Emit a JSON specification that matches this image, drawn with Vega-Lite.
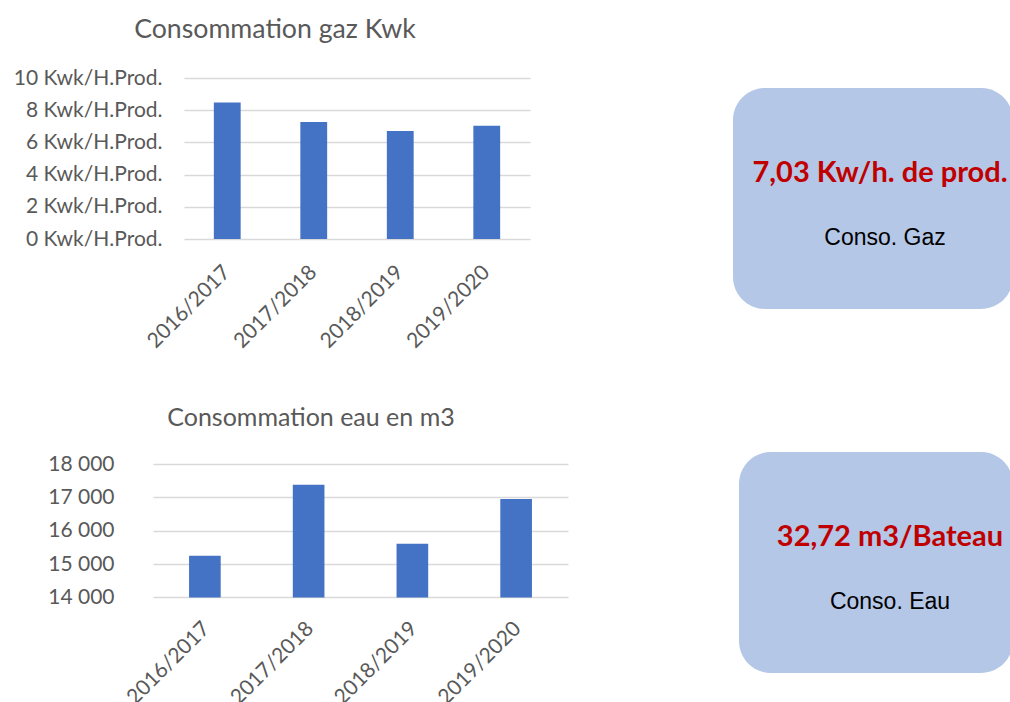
{
  "$schema": "https://vega.github.io/schema/vega-lite/v6.json",
  "padding": {"left": 11, "top": 16, "right": 0, "bottom": 0},
  "background": "white",
  "columns": 3,
  "align": "none",
  "bounds": "full",
  "spacing": 0,
  "config": {
    "view": {"stroke": null},
    "font": "Lato",
    "axis": {"labelFont": "Lato", "labelFontSize": 21, "labelColor": "#595959", "ticks": false, "domain": false, "gridColor": "#D9D9D9", "gridWidth": 1.5},
    "title": {"font": "Lato", "fontWeight": "normal", "color": "#595959", "anchor": "middle", "frame": "bounds", "baseline": "alphabetic"}
  },
  "concat": [
    {"width": 1, "height": 1, "data": {"values": []}, "mark": "point"},
    {"width": 1, "height": 1, "data": {"values": []}, "mark": "point"},
    {"width": 1, "height": 1, "data": {"values": []}, "mark": "point"},
    {"width": 1, "height": 1, "data": {"values": []}, "mark": "point"},
    {
      "width": 346,
      "height": 161,
      "title": {"text": "Consommation gaz Kwk", "fontSize": 26.7, "offset": 23, "dx": 4},
      "data": {"values": [
        {"saison": "2016/2017", "conso": 8.48},
        {"saison": "2017/2018", "conso": 7.27},
        {"saison": "2018/2019", "conso": 6.71},
        {"saison": "2019/2020", "conso": 7.03}
      ]},
      "mark": {"type": "bar", "color": "#4472C4"},
      "encoding": {
        "x": {"field": "saison", "type": "nominal", "sort": null, "title": null, "scale": {"paddingInner": 0.69, "paddingOuter": 0.345}, "axis": {"labelAngle": -45, "labelPadding": 22, "labelOffset": -8, "grid": false, "minExtent": 167, "maxExtent": 167}},
        "y": {"field": "conso", "type": "quantitative", "title": null, "scale": {"domain": [0, 10], "nice": false}, "axis": {"values": [0, 2, 4, 6, 8, 10], "labelExpr": "datum.value + ' Kwk/H.Prod.'", "labelPadding": 22, "minExtent": 172, "grid": true}}
      }
    },
    {
      "width": 280,
      "height": 221,
      "view": {"fill": "#B4C7E7", "stroke": null, "cornerRadius": 32},
      "data": {"values": [
        {"indicateur": "Gaz", "ligne": "valeur", "texte": "7,03 Kw/h. de prod."},
        {"indicateur": "Gaz", "ligne": "libellé", "texte": "Conso. Gaz"}
      ]},
      "encoding": {
        "x": {"field": "indicateur", "type": "nominal", "title": null, "axis": {"orient": "top", "labels": false, "ticks": false, "domain": false, "grid": false, "minExtent": 71, "maxExtent": 71}},
        "y": {"field": "ligne", "type": "nominal", "title": null, "scale": {"type": "point", "domain": ["valeur", "libellé"], "padding": 1.1}, "axis": {"labels": false, "ticks": false, "domain": false, "grid": false, "minExtent": 134, "maxExtent": 134}},
        "text": {"field": "texte", "type": "nominal"}
      },
      "layer": [
        {"transform": [{"filter": "datum.ligne === 'valeur'"}], "mark": {"type": "text", "font": "Lato", "fontWeight": "bold", "fontSize": 29, "color": "#C00000", "baseline": "alphabetic", "align": "center", "dx": 7, "dy": 20}},
        {"transform": [{"filter": "datum.ligne === 'libellé'"}], "mark": {"type": "text", "font": "Liberation Sans", "fontSize": 23, "color": "#000000", "baseline": "alphabetic", "align": "center", "dx": 12, "dy": 10}}
      ]
    },
    {"width": 1, "height": 1, "data": {"values": []}, "mark": "point"},
    {
      "width": 415,
      "height": 133.4,
      "title": {"text": "Consommation eau en m3", "fontSize": 25, "offset": 22, "dx": 21},
      "data": {"values": [
        {"saison": "2016/2017", "conso": 15250},
        {"saison": "2017/2018", "conso": 17380},
        {"saison": "2018/2019", "conso": 15610},
        {"saison": "2019/2020", "conso": 16950}
      ]},
      "mark": {"type": "bar", "color": "#4472C4"},
      "encoding": {
        "x": {"field": "saison", "type": "nominal", "sort": null, "title": null, "scale": {"paddingInner": 0.695, "paddingOuter": 0.3475}, "axis": {"labelAngle": -45, "labelPadding": 20, "labelOffset": -6, "grid": false}},
        "y": {"field": "conso", "type": "quantitative", "title": null, "scale": {"domain": [14000, 18000], "nice": false, "zero": false, "clamp": true}, "axis": {"values": [14000, 15000, 16000, 17000, 18000], "labelExpr": "replace(format(datum.value, ','), ',', ' ')", "labelPadding": 39, "minExtent": 141, "grid": true}}
      }
    },
    {
      "width": 274,
      "height": 221,
      "view": {"fill": "#B4C7E7", "stroke": null, "cornerRadius": 32},
      "data": {"values": [
        {"indicateur": "Eau", "ligne": "valeur", "texte": "32,72 m3/Bateau"},
        {"indicateur": "Eau", "ligne": "libellé", "texte": "Conso. Eau"}
      ]},
      "encoding": {
        "x": {"field": "indicateur", "type": "nominal", "title": null, "axis": {"orient": "top", "labels": false, "ticks": false, "domain": false, "grid": false, "minExtent": 36, "maxExtent": 36}},
        "y": {"field": "ligne", "type": "nominal", "title": null, "scale": {"type": "point", "domain": ["valeur", "libellé"], "padding": 1.1}, "axis": {"labels": false, "ticks": false, "domain": false, "grid": false, "minExtent": 171, "maxExtent": 171}},
        "text": {"field": "texte", "type": "nominal"}
      },
      "layer": [
        {"transform": [{"filter": "datum.ligne === 'valeur'"}], "mark": {"type": "text", "font": "Lato", "fontWeight": "bold", "fontSize": 29, "color": "#C00000", "baseline": "alphabetic", "align": "center", "dx": 14, "dy": 20}},
        {"transform": [{"filter": "datum.ligne === 'libellé'"}], "mark": {"type": "text", "font": "Liberation Sans", "fontSize": 23, "color": "#000000", "baseline": "alphabetic", "align": "center", "dx": 14, "dy": 10}}
      ]
    }
  ]
}
